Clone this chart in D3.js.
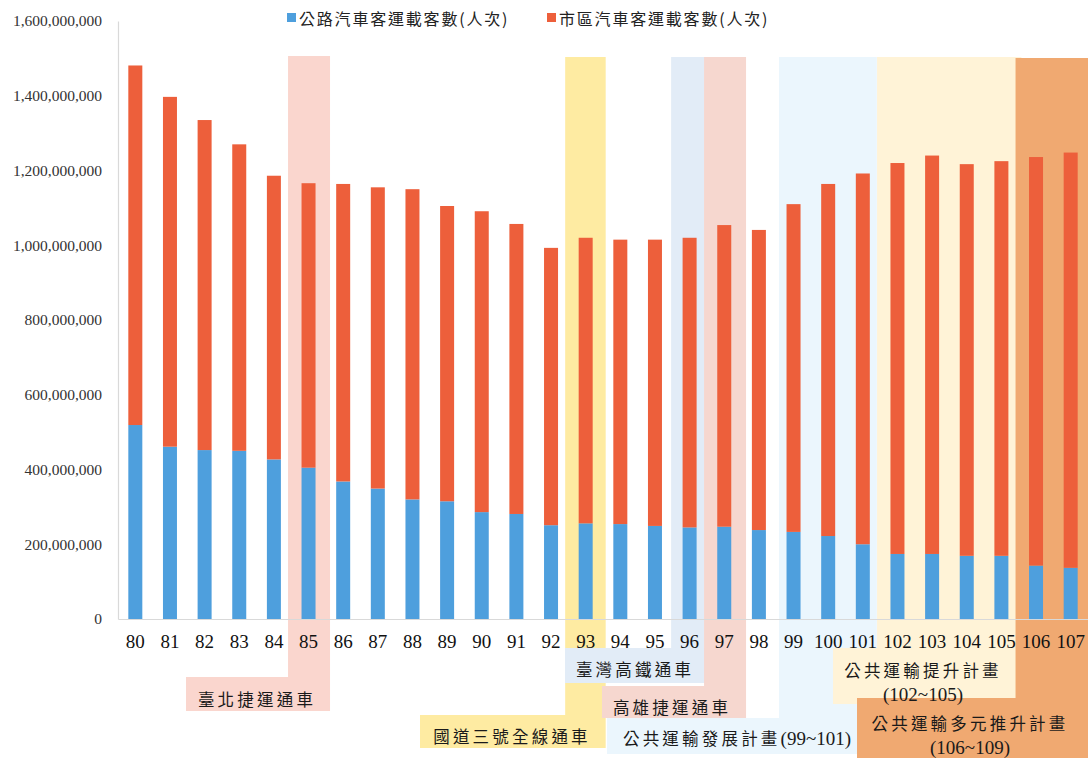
<!DOCTYPE html>
<html>
<head>
<meta charset="utf-8">
<script src="https://cdn.jsdelivr.net/npm/d3@7"></script>
<style>
  html, body { margin: 0; padding: 0; background: #fff; }
  svg { display: block; }
</style>
</head>
<body>
<svg id="chart" width="1088" height="758"></svg>
<script>
// ---------------- DATA ----------------
const years = ["80","81","82","83","84","85","86","87","88","89","90","91","92","93",
               "94","95","96","97","98","99","100","101","102","103","104","105","106","107"];
// 公路汽車客運載客數(人次)
const highwayBus = [519e6, 461e6, 452e6, 450e6, 427e6, 405e6, 368e6, 349e6, 320e6, 315e6,
                    286e6, 281e6, 251e6, 256e6, 254e6, 249e6, 245e6, 247e6, 238e6, 233e6,
                    222e6, 200e6, 174e6, 174e6, 169e6, 169e6, 143e6, 137e6];
const totalBus = [1481e6, 1397e6, 1335e6, 1270e6, 1186e6, 1166e6, 1164e6, 1155e6, 1150e6, 1105e6,
                  1091e6, 1057e6, 993e6, 1020e6, 1015e6, 1015e6, 1020e6, 1054e6, 1041e6, 1110e6,
                  1164e6, 1192e6, 1220e6, 1240e6, 1217e6, 1225e6, 1236e6, 1248e6];
// 市區汽車客運載客數(人次)
const cityBus = totalBus.map((t, i) => t - highwayBus[i]);
const seriesNames = ["公路汽車客運載客數(人次)", "市區汽車客運載客數(人次)"];
const yTicks = [0, 200e6, 400e6, 600e6, 800e6, 1000e6, 1200e6, 1400e6, 1600e6];

// annotation events: label lines, first and last year covered
const eventLabels = [["臺北捷運通車"], ["國道三號全線通車"], ["公共運輸發展計畫(99~101)"],
                     ["公共運輸提升計畫", "(102~105)"], ["臺灣高鐵通車"], ["高雄捷運通車"],
                     ["公共運輸多元推升計畫", "(106~109)"]];
const eventFrom = ["85", "93", "99", "102", "96", "97", "106"];
const eventTo   = ["85", "93", "101", "105", "96", "97", "107"];

// ---------------- LAYOUT / STYLE ----------------
const svg = d3.select("#chart");
const plotLeft = 118, plotRight = 1088, plotTop = 21, plotBottom = 619;
const blue = "#4e9fdd", red = "#ed5f3b";
const serif = "'Liberation Serif', 'Times New Roman', serif";
const cjk = "'Noto Sans CJK TC', 'Noto Sans CJK SC', sans-serif";

const x = d3.scaleBand().domain(years).range([plotLeft, plotRight]).paddingInner(0.6).paddingOuter(0.3);
const y = d3.scaleLinear().domain([0, 1.6e9]).range([plotBottom, plotTop]);
const cx = d => x(d) + x.bandwidth() / 2;

// per-event style: color, column side pads, label box, label position
const eventStyle = [
  { fill: "#fad6ce", padL: 20.5, padR: 21.5, colTop: 56, box: [186, 677, 330, 711], tx: 257, ty: [699] },
  { fill: "#feeba2", padL: 20.5, padR: 20, colTop: 57, box: [420, 715, 605, 748], tx: 512, ty: [736] },
  { fill: "#ebf6fd", padL: 14.5, padR: 14, colTop: 57, box: [607, 718, 877, 754], tx: 737, ty: [738] },
  { fill: "#fff3d7", padL: 20.4, padR: 20, colTop: 57, box: [833, 648, 1021, 704], tx: 923, ty: [670, 694] },
  { fill: "#e2ecf7", padL: 18.5, padR: 14.5, colTop: 57, box: [565, 648, 710, 683], tx: 635, ty: [669] },
  { fill: "#f6d7cf", padL: 20.2, padR: 21.8, colTop: 57, box: [602, 686, 746, 718], tx: 672, ty: [707] },
  { fill: "#f0a971", padL: 20.5, padR: 40, colTop: 58, box: [857, 698, 1088, 758], tx: 970, ty: [723, 747] }
];

const gEvents = svg.append("g");
eventLabels.forEach((lines, i) => {
  const s = eventStyle[i];
  const x0 = cx(eventFrom[i]) - s.padL;
  const x1 = Math.min(plotRight, cx(eventTo[i]) + s.padR);
  const g = gEvents.append("g");
  g.append("rect").attr("x", x0).attr("y", s.colTop).attr("width", x1 - x0)
    .attr("height", s.box[3] - s.colTop).attr("fill", s.fill);
  g.append("rect").attr("x", s.box[0]).attr("y", s.box[1]).attr("width", s.box[2] - s.box[0])
    .attr("height", s.box[3] - s.box[1]).attr("fill", s.fill);
});

// ---------------- BARS ----------------
const stackData = years.map((yr, i) => ({ year: yr, highway: highwayBus[i], city: cityBus[i] }));
const stack = d3.stack().keys(["highway", "city"])(stackData);
const colors = [blue, red];
svg.append("g").selectAll("g").data(stack).join("g")
  .attr("fill", (d, i) => colors[i])
  .selectAll("rect").data(d => d).join("rect")
  .attr("x", d => cx(d.data.year) - 7)
  .attr("width", 14)
  .attr("y", d => y(d[1]))
  .attr("height", d => y(d[0]) - y(d[1]));

// ---------------- AXES ----------------
const yAxis = d3.axisLeft(y).tickValues(yTicks).tickSize(0).tickPadding(16)
  .tickFormat(d => d3.format(",")(d));
const gy = svg.append("g").attr("transform", `translate(${plotLeft},0)`).call(yAxis);
gy.select(".domain").attr("stroke", "#d9d9d9").attr("stroke-width", 1.2);
gy.selectAll("text").attr("font-family", serif).attr("font-size", 15.5).attr("fill", "#333");

const xAxis = d3.axisBottom(x).tickSize(0).tickPadding(16);
const gx = svg.append("g").attr("transform", `translate(0,${plotBottom})`).call(xAxis);
gx.select(".domain").attr("stroke", "#d9d9d9").attr("stroke-width", 1.2);
gx.selectAll("text").attr("font-family", serif).attr("font-size", 19).attr("fill", "#111");

// ---------------- EVENT LABELS ----------------
const gLabels = svg.append("g");
eventLabels.forEach((lines, i) => {
  const s = eventStyle[i];
  lines.forEach((line, j) => {
    const t = gLabels.append("text")
      .attr("x", s.tx).attr("y", s.ty[j])
      .attr("text-anchor", "middle").attr("dominant-baseline", "central")
      .attr("fill", "#1a1a1a");
    const parts = line.match(/[^\x00-\x7F]+|[\x00-\x7F]+/g);
    parts.forEach(p => {
      const ascii = /^[\x00-\x7F]+$/.test(p);
      t.append("tspan").text(p)
        .attr("font-family", ascii ? serif : cjk)
        .attr("font-size", ascii ? 19 : 16.5)
        .attr("letter-spacing", ascii ? 0 : 3.2);
    });
  });
});

// ---------------- LEGEND ----------------
const legend = svg.append("g").attr("font-family", cjk).attr("font-size", 16).attr("fill", "#222");
const legendX = [287, 547];
seriesNames.forEach((name, i) => {
  legend.append("rect").attr("x", legendX[i]).attr("y", 13).attr("width", 9).attr("height", 9).attr("fill", colors[i]);
  legend.append("text").attr("x", legendX[i] + 12).attr("y", 18).attr("dominant-baseline", "central")
    .attr("letter-spacing", 1.8).text(name);
});
</script>
</body>
</html>
